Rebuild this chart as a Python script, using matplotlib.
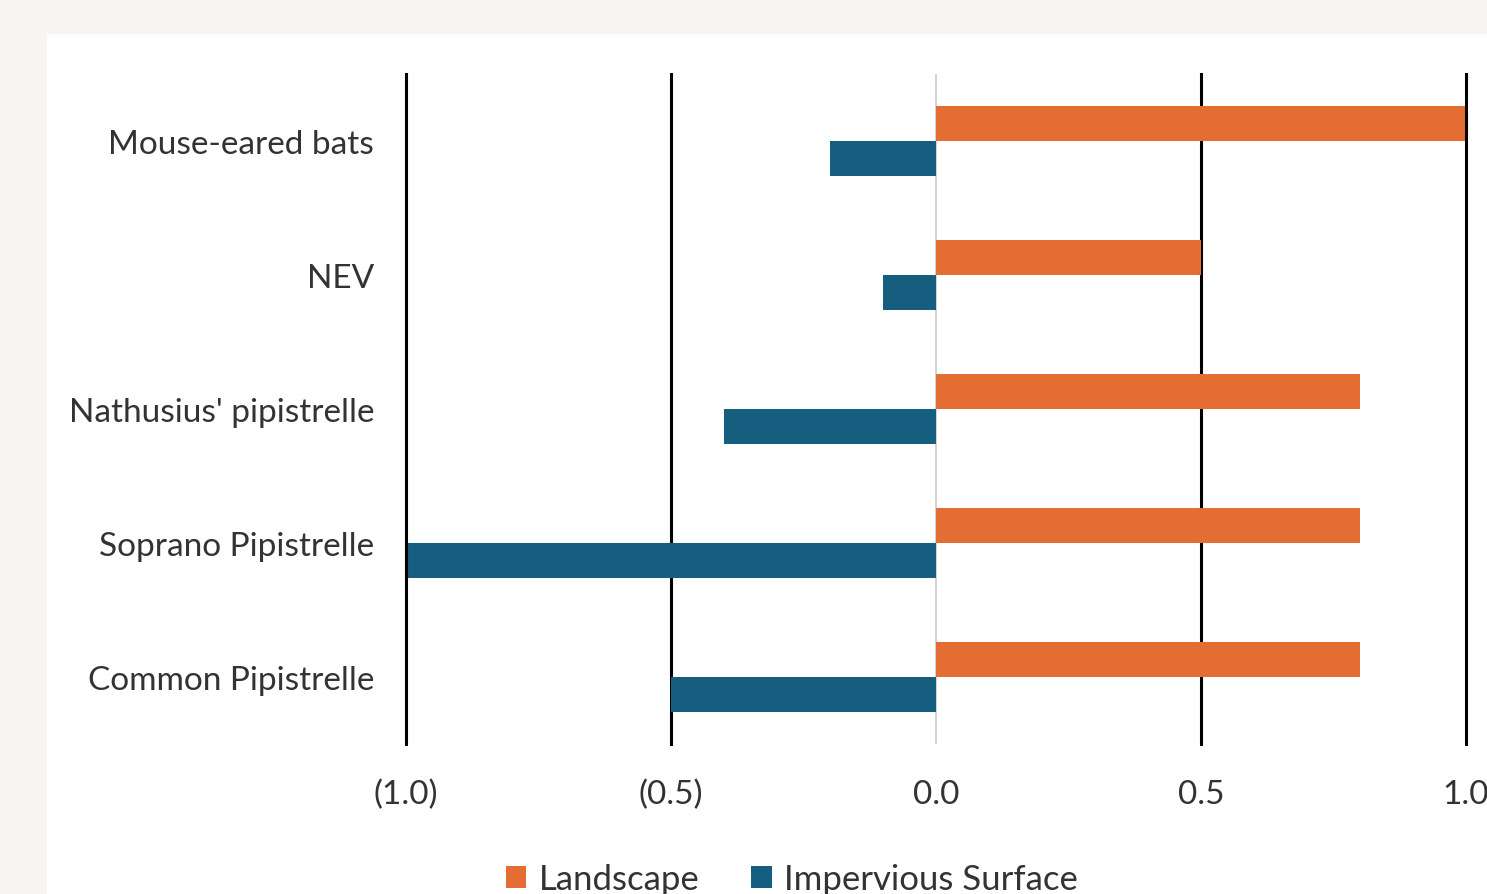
import matplotlib.pyplot as plt
from matplotlib.patches import Rectangle
import numpy as np

species = ['Common Pipistrelle', 'Soprano Pipistrelle', "Nathusius' pipistrelle",
           'NEV', 'Mouse-eared bats']
landscape = [0.8, 0.8, 0.8, 0.5, 1.0]
impervious = [-0.5, -1.0, -0.4, -0.1, -0.2]
xticks = [-1.0, -0.5, 0.0, 0.5, 1.0]
xticklabels = ['(1.0)', '(0.5)', '0.0', '0.5', '1.0']

orange = '#E46D33'
blue = '#155E7F'
txt = '#333333'

plt.rcParams['font.family'] = ['Lato', 'DejaVu Sans']

W, H = 1487, 895
fig = plt.figure(figsize=(W / 100, H / 100), dpi=100, facecolor='#f6f5f1')
# white card behind the chart
fig.patches.append(Rectangle((47 / W, 0), 1 - 47 / W, 1 - 35 / H,
                             transform=fig.transFigure, facecolor='white',
                             edgecolor='none', zorder=-10))

ax = fig.add_axes([406 / W, 1 - 745 / H, (1466 - 406) / W, (745 - 75) / H])
ax.set_facecolor('none')

y = np.arange(len(species))
h = 0.26
ax.barh(y + h / 2, landscape, height=h, color=orange, label='Landscape', zorder=2)
ax.barh(y - h / 2, impervious, height=h, color=blue, label='Impervious Surface', zorder=2)

ax.set_xlim(-1.0, 1.0)
ax.set_ylim(-0.5, len(species) - 0.5)
for xv in xticks:
    if xv == 0:
        ax.axvline(xv, color='#d4d4d4', lw=1.5, zorder=1)
    else:
        ax.axvline(xv, color='black', lw=2.2, clip_on=False,
                   zorder=3 if abs(xv) == 1 else 1)

ax.set_xticks(xticks)
ax.set_xticklabels(xticklabels)
ax.set_yticks(y)
ax.set_yticklabels(species)
ax.tick_params(axis='both', length=0, labelsize=24, labelcolor=txt)
ax.tick_params(axis='x', pad=25)
ax.tick_params(axis='y', pad=23)
for s in ax.spines.values():
    s.set_visible(False)

fig.legend(loc='center', bbox_to_anchor=(792 / W, 1 - 880 / H), ncol=2,
           frameon=False, fontsize=25, labelcolor=txt, handlelength=0.6,
           handleheight=0.6, handletextpad=0.35, columnspacing=1.5)

fig.savefig('out.png', dpi=100, facecolor=fig.get_facecolor())
